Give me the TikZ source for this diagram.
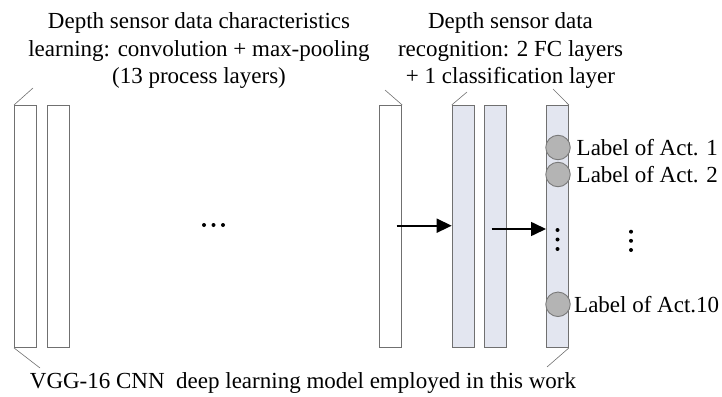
\documentclass[tikz,border=0pt]{standalone}
\usepackage{fontspec}
\setmainfont{Liberation Serif}
\usetikzlibrary{arrows.meta}
\definecolor{layerblue}{HTML}{E3E6F0}
\definecolor{edgegray}{HTML}{707070}
\definecolor{circfill}{HTML}{B4B4B4}
\definecolor{circedge}{HTML}{7A7A7A}
\tikzset{
  layerbox/.style={draw=edgegray, line width=0.9pt, inner sep=0pt, minimum width=22pt, minimum height=242pt, anchor=north west},
  whitelayer/.style={layerbox, fill=white},
  bluelayer/.style={layerbox, fill=layerblue},
  leader/.style={draw=edgegray, line width=0.6pt},
  arr/.style={line width=1.6pt, -{Triangle[length=15pt,width=14pt]}},
  txt/.style={inner sep=0pt, anchor=base, font=\fontsize{23}{27.5}\selectfont},
  lab/.style={inner sep=0pt, anchor=base west, font=\fontsize{23}{27.5}\selectfont},
  circ/.style={circle, draw=circedge, line width=0.9pt, fill=circfill, minimum size=24.5pt, inner sep=0pt},
  dot/.style={circle, fill=black, minimum size=4pt, inner sep=0pt},
}
\begin{document}
\begin{tikzpicture}[x=1pt, y=-1pt]
\useasboundingbox (0,0) rectangle (722,396);

% layers
\node[whitelayer] (r1) at (14,105) {};
\node[whitelayer] (r2) at (47.3,105) {};
\node[whitelayer] (r3) at (379.3,105) {};
\node[bluelayer] (r4) at (451.7,105) {};
\node[bluelayer] (r5) at (484.3,105) {};
\node[bluelayer] (r6) at (546,105) {};

% leader lines
\coordinate (l1) at (33,88);
\coordinate (l2) at (40,368);
\coordinate (l3) at (385,90);
\coordinate (l4) at (467,92);
\coordinate (l5) at (553,89);
\coordinate (l6) at (547,367);
\draw[leader] (r1.north west) -- (l1);
\draw[leader] (r1.south west) -- (l2);
\draw[leader] (r3.north east) -- (l3);
\draw[leader] (r4.north west) -- (l4);
\draw[leader] (r6.north east) -- (l5);
\draw[leader] (r6.south east) -- (l6);

% arrows
\coordinate (a1) at (396.7,225.7);
\coordinate (a2) at (491.7,229);
\draw[arr] (a1) -- (a1 -| r4.west);
\draw[arr] (a2) -- (a2 -| r6.west);

% horizontal dots
\node[dot] (h1) at (204,225) {};
\node[dot] (h2) at (213.5,225) {};
\node[dot] (h3) at (223,225) {};

% vertical dots in last layer
\node[dot] (v1) at (557.5,230) {};
\node[dot] (v2) at (557.5,239.5) {};
\node[dot] (v3) at (557.5,249) {};

% vertical dots at right
\node[dot] (w1) at (631,231.7) {};
\node[dot] (w2) at (631,240.8) {};
\node[dot] (w3) at (631,250) {};

% output circles
\node[circ] (c1) at (558,147.5) {};
\node[circ] (c2) at (558,174.5) {};
\node[circ] (c3) at (558,304.3) {};
\node[lab] (n1) at (576.5,155.3) {Label of Act. 1};
\node[lab] (n2) at (576.5,182.3) {Label of Act. 2};
\node[lab] (n3) at (574,312) {Label of Act.10};

% titles
\node[txt] (t1a) at (199,29) {Depth sensor data characteristics};
\node[txt] (t1b) at (199,56.5) {learning: convolution + max-pooling};
\node[txt] (t1c) at (199,83.5) {(13 process layers)};
\node[txt] (t2a) at (510.5,29) {Depth sensor data};
\node[txt] (t2b) at (510.5,56.5) {recognition: 2 FC layers};
\node[txt] (t2c) at (510.5,83.5) {+ 1 classification layer};
\node[txt] (t3) at (303,388) {VGG-16 CNN\ \ deep learning model employed in this work};
\end{tikzpicture}
\end{document}
